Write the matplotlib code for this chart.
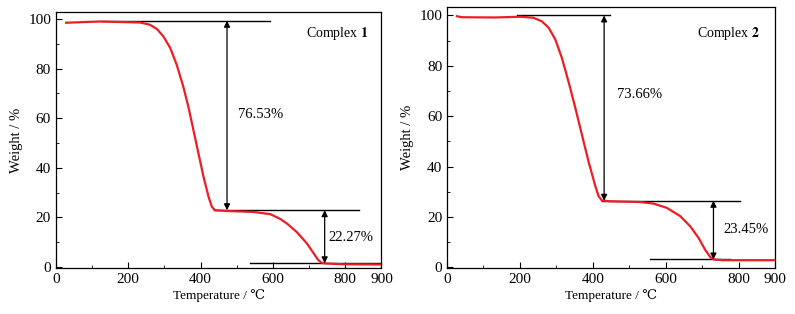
import matplotlib.pyplot as plt

# TGA curves
temp_1 = [28, 80, 122, 177, 233, 260, 279, 297, 316, 334, 352, 366, 380, 394, 408,
          422, 431, 440, 473, 546, 593, 620, 639, 666, 694, 713, 726, 736, 750,
          796, 900]
weight_1 = [98.5, 98.8, 99.0, 98.8, 98.6, 97.7, 96.0, 93.0, 88.3, 81.5, 72.8, 64.7,
            55.3, 45.8, 36.4, 28.3, 24.3, 22.9, 22.6, 22.2, 21.3, 19.4, 17.5, 14.1,
            9.5, 5.4, 2.7, 1.6, 1.4, 1.1, 1.0]

temp_2 = [27, 41, 132, 201, 237, 260, 279, 297, 315, 333, 352, 370, 388, 407, 416,
          425, 448, 530, 566, 603, 640, 667, 690, 708, 722, 731, 758, 900]
weight_2 = [99.7, 99.3, 99.2, 99.5, 99.1, 97.7, 95.1, 90.5, 83.2, 73.9, 63.3, 52.7,
            42.1, 32.2, 28.2, 26.5, 26.2, 25.9, 25.3, 23.6, 20.3, 16.3, 11.7, 7.0,
            4.1, 3.1, 2.8, 2.8]

panels = [
    dict(t=temp_1, w=weight_1, name='1', ylim=(-0.4, 102.8),
         levels=(99.3, 22.9, 1.5), hlines=((126, 593), (436, 837), (537, 897)),
         arrow_x=(473, 743), losses=('76.53%', '22.27%'),
         loss_pos=((502, 61.3), (752, 12.1)), label_pos=(692, 94.3),
         rect=[0.0704, 0.1465, 0.4094, 0.815]),
    dict(t=temp_2, w=weight_2, name='2', ylim=(-0.3, 103.4),
         levels=(100.0, 26.4, 3.1), hlines=((192, 448), (425, 804), (557, 777)),
         arrow_x=(431, 731), losses=('73.66%', '23.45%'),
         loss_pos=((466, 68.6), (757, 15.0)), label_pos=(685, 93.0),
         rect=[0.5623, 0.1465, 0.4126, 0.8315]),
]

plt.rcParams['font.family'] = ['Liberation Serif', 'DejaVu Serif', 'DejaVu Sans']
plt.rcParams['font.size'] = 10
plt.rcParams['mathtext.fontset'] = 'stix'

fig = plt.figure(figsize=(7.95, 3.14), dpi=100)

for p in panels:
    ax = fig.add_axes(p['rect'])
    ax.plot(p['t'], p['w'], color='#ee1c25', lw=1.6, zorder=3,
            solid_joinstyle='round')

    top, mid, low = p['levels']
    for y, (x0, x1) in zip(p['levels'], p['hlines']):
        ax.plot([x0, x1], [y, y], color='black', lw=1.0, zorder=2)

    arrow = dict(arrowstyle='<|-|>', color='black', lw=0.9,
                 mutation_scale=9, shrinkA=0, shrinkB=0)
    ax.annotate('', xy=(p['arrow_x'][0], mid), xytext=(p['arrow_x'][0], top),
                arrowprops=arrow)
    ax.annotate('', xy=(p['arrow_x'][1], low), xytext=(p['arrow_x'][1], mid),
                arrowprops=arrow)

    for txt, (x, y) in zip(p['losses'], p['loss_pos']):
        ax.text(x, y, txt, ha='left', va='center', fontsize=10.5)
    ax.text(p['label_pos'][0], p['label_pos'][1],
            'Complex $\\mathbf{' + p['name'] + '}$', ha='left', va='center',
            fontsize=10)

    ax.set_xlim(0, 900)
    ax.set_ylim(*p['ylim'])
    ax.set_xticks([0, 200, 400, 600, 800, 900])
    ax.set_xticks([100, 300, 500, 700], minor=True)
    ax.set_yticks([0, 20, 40, 60, 80, 100])
    ax.set_yticks([10, 30, 50, 70, 90], minor=True)
    ax.tick_params(direction='in', which='both', top=False, right=False,
                   labelsize=11)
    ax.tick_params(which='major', length=4)
    ax.tick_params(which='minor', length=2.5)
    ax.set_xlabel('Temperature / ℃', labelpad=2, fontsize=9.5)
    ax.set_ylabel('Weight / %', labelpad=4, fontsize=10.5)
    for s in ax.spines.values():
        s.set_linewidth(0.9)

fig.savefig('out.png', dpi=100)
